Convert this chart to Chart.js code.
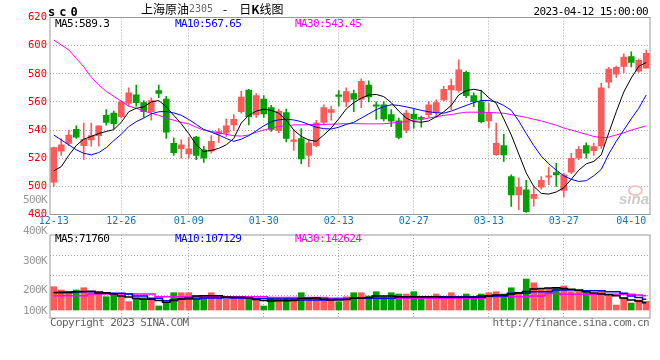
<!DOCTYPE html>
<html>
<head>
<meta charset="utf-8">
<script src="https://cdn.jsdelivr.net/npm/chart.js@4.4.0/dist/chart.umd.min.js"></script>
<style>
  body { margin: 0; background: #fff; }
  #wrap { position: relative; width: 660px; height: 360px; overflow: hidden; }
  canvas { position: absolute; left: 0; }
  .t { position: absolute; white-space: nowrap; font-family: 'DejaVu Sans Mono', monospace; font-size: 11px; line-height: 12px; letter-spacing: -0.6px; }
</style>
</head>
<body>
<div id="wrap">
  <canvas id="price" width="660" height="232" style="top:0"></canvas>
  <canvas id="volume" width="660" height="100" style="top:228px"></canvas>

  <div class="t" style="left:48px;top:5px;font-weight:bold;font-size:12px;line-height:14px;letter-spacing:4px;color:#000">sc0</div>
  <div class="t" style="left:141px;top:1px;font-family:'Noto Sans CJK SC';font-size:12px;line-height:16px;letter-spacing:0;color:#000">上海原油<span style="font:10px 'DejaVu Sans Mono';color:#666;vertical-align:2px">2305</span><span style="margin-left:10px">-</span><span style="margin-left:12px">日</span><b>K</b>线图</div>
  <div class="t" style="right:12px;top:6px;color:#000">2023-04-12 15:00:00</div>

  <div class="t" style="left:55px;top:18px;color:#000">MA5:589.3</div>
  <div class="t" style="left:175px;top:18px;color:#0000ff">MA10:567.65</div>
  <div class="t" style="left:295px;top:18px;color:#ff00ff">MA30:543.45</div>

  <div class="t" style="left:55px;top:233px;color:#000">MA5:71760</div>
  <div class="t" style="left:175px;top:233px;color:#0000ff">MA10:107129</div>
  <div class="t" style="left:295px;top:233px;color:#ff00ff">MA30:142624</div>

  <div class="t" style="right:613px;top:194px;color:#999">500K</div>
  <div class="t" style="right:613px;top:225px;color:#999">400K</div>
  <div class="t" style="right:613px;top:255px;color:#999">300K</div>
  <div class="t" style="right:613px;top:284px;color:#999">200K</div>
  <div class="t" style="right:613px;top:305px;color:#999">100K</div>

  <div class="t" style="left:50px;top:317px;color:#666">Copyright 2023 SINA.COM</div>
  <div class="t" style="right:11px;top:317px;color:#666">http://finance.sina.com.cn</div>

  <div style="position:absolute;left:628px;top:185px;width:11px;height:7px;border:2px solid #f2c6c6;border-radius:50%"></div>
  <div style="position:absolute;left:619px;top:190px;font:italic bold 15px 'Liberation Sans';color:#cccccc">sina</div>
</div>

<script>
// trading days shown
const dates = [
  '12-13','12-14','12-15','12-16','12-19','12-20','12-21','12-22','12-23','12-26',
  '12-27','12-28','12-29','12-30','01-03','01-04','01-05','01-06','01-09','01-10',
  '01-11','01-12','01-13','01-16','01-17','01-18','01-19','01-20','01-30','01-31',
  '02-01','02-02','02-03','02-06','02-07','02-08','02-09','02-10','02-13','02-14',
  '02-15','02-16','02-17','02-20','02-21','02-22','02-23','02-24','02-27','02-28',
  '03-01','03-02','03-03','03-06','03-07','03-08','03-09','03-10','03-13','03-14',
  '03-15','03-16','03-17','03-20','03-21','03-22','03-23','03-24','03-27','03-28',
  '03-29','03-30','03-31','04-03','04-04','04-06','04-07','04-10','04-11','04-12'
];
const shownDates = ['12-13','12-26','01-09','01-30','02-13','02-27','03-13','03-27','04-10'];
const gridDates = ['12-26','01-09','01-30','02-13','02-27','03-13','03-27'];

const opens = [
  503, 525, 530.5, 540.5, 529, 533, 536, 550.5, 552, 549.5,
  559, 565, 559.5, 553, 568, 562, 530.5, 526.7, 523, 535,
  526, 525, 537.3, 538, 543.7, 553, 568.5, 550.8, 562, 556,
  539.5, 552.5, 532, 534, 522, 529, 545.5, 552.5, 565, 560,
  566, 562, 572, 558, 558, 551, 546.5, 540, 551.3, 549,
  551, 552.3, 561.4, 568.6, 568.2, 581, 564.5, 560, 546.5, 522.5,
  529, 507, 494, 497.6, 491.5, 499.5, 506.6, 509.8, 497.1, 510,
  520, 529, 525.3, 528.8, 574, 579.8, 585.2, 592.3, 581.8, 584
];
const highs = [
  528, 534, 540, 543, 545, 545, 543, 554.5, 553.5, 561,
  570, 572, 561, 563, 572, 564, 534.5, 533, 535, 535.5,
  528.5, 536, 541, 548, 551, 567.5, 569, 566, 564.5, 557.5,
  555, 555, 540, 541, 533, 547, 558, 557, 568, 570,
  568.5, 576.5, 575, 560, 560, 554.5, 548.5, 554, 554.8, 550,
  560.2, 561.5, 571, 576.2, 590, 582, 566.5, 568.5, 559, 545,
  537, 508.2, 506, 504.3, 500, 507, 513.7, 516.4, 509.5, 523.5,
  528.3, 531, 530.5, 573.2, 584.5, 585.5, 594.2, 595.6, 590.5, 596.8
];
const lows = [
  500, 522, 529, 534, 519, 528.5, 528.5, 543.5, 541, 548.5,
  557, 557, 549, 547, 563, 534, 522, 520, 520, 519,
  517, 523.5, 531, 535.5, 539.5, 552, 543.7, 549, 549, 539,
  538, 531.5, 525.5, 516, 514, 528, 544, 547, 557, 556.7,
  553, 556, 560, 547.5, 546.5, 542.5, 533.8, 538, 541.3, 542,
  549, 549, 560.5, 554.5, 567, 563, 556.7, 545, 541.5, 522,
  517.7, 485.7, 483.5, 481.5, 486, 498, 501.2, 500, 492.5, 509,
  519, 520, 522, 527, 570, 577.5, 580.8, 584.8, 581, 584
];
const closes = [
  527.5, 529.5, 536.5, 535, 533.5, 536, 543, 545.5, 544.5, 560,
  566.5, 559.5, 553, 561, 566, 538.5, 524, 529.5, 526.7, 522,
  520, 532, 539, 543, 547.7, 563.5, 549.6, 564.5, 551.4, 540.5,
  553.5, 534, 533, 519.5, 531, 545, 556, 554.5, 564, 567.3,
  562, 574.6, 563.5, 557, 548, 546.3, 534.7, 552, 548, 548.3,
  558, 559.6, 569, 571.7, 582.8, 564.5, 560.2, 546, 552.5, 530.5,
  522.4, 494, 499.4, 482, 494.3, 504.2, 507.5, 508.2, 508.2, 520,
  526.4, 523.6, 528.3, 570, 583.4, 584.5, 591.8, 588, 589.5, 594.5
];

const ma5 = [
  511, 514, 522, 529, 533.5, 535.5, 537.5, 539, 540.3, 545.5,
  553, 555.5, 556.5, 560, 561, 556.5, 550.5, 544.5, 537.5, 529.5,
  524.8, 525.5, 527, 529.5, 534, 545, 550.5, 553.5, 554.8, 554,
  552, 547, 540, 535.5, 533, 532, 536.5, 541.5, 548, 555,
  559.5, 562.6, 565, 565.3, 563.8, 559.5, 553.5, 548.5, 546, 545.6,
  546.5, 549.5, 553, 557.5, 565, 568, 569, 568, 563, 559,
  548, 536.5, 523, 509.5, 500, 495, 494.5, 496, 499, 505,
  511.5, 516, 517.7, 522.4, 538, 553, 567, 577, 585.3, 588
];
const ma10 = [
  536.5, 533, 529.5, 526, 523.5, 522.4, 524, 527.5, 532.5, 537,
  542.5, 546, 548.5, 551.5, 553, 553.2, 552.2, 550.5, 547.5, 544,
  540.5, 538.5, 536.5, 534, 532, 533.5, 536, 539.5, 543, 546,
  547.3, 547.7, 547.2, 546, 544, 542, 541, 540.8, 542, 544,
  545.5, 548.5, 551.5, 554.5, 556.7, 558, 557.5, 556.5, 555.3, 554,
  553, 552.3, 552, 553.5, 555.5, 557.5, 559.5, 561, 561, 560,
  557.5, 554, 546.5, 537.5, 529, 521.5, 516, 511.5, 507.5, 505,
  503.5, 504, 507.5, 512, 523, 532, 540, 548, 555.5, 565
];
const ma30 = [
  604, 600.5, 597, 591, 585, 577.5, 572, 567.5, 564, 560.5,
  557, 555.5, 553.5, 552, 550.5, 548.5, 547, 545.5, 544.4, 542,
  540, 539, 538, 537, 536, 535.7, 536.5, 538.5, 540, 541.5,
  542.5, 543.2, 543.6, 543.7, 543.8, 544, 544, 544.2, 544.3, 544.5,
  544.6, 544.5, 544.4, 544.4, 544.5, 545, 545.5, 546, 547, 547.5,
  548.5, 549.5, 550.5, 551, 552, 552.7, 552.7, 552.7, 552.5, 552.3,
  552, 551, 550, 549, 547.7, 546.5, 545, 543.5, 541.5, 540,
  538.5, 537, 535.5, 534.5, 535, 536.5, 538, 540, 541.5, 543
];

const volumes = [
  233000, 200000, 183000, 200000, 223000, 173000, 173000, 133000, 150000, 133000,
  83000, 123000, 123000, 117000, 40000, 77000, 173000, 173000, 173000, 140000,
  140000, 173000, 140000, 110000, 133000, 133000, 127000, 110000, 40000, 127000,
  127000, 127000, 127000, 173000, 127000, 127000, 110000, 117000, 83000, 133000,
  173000, 173000, 140000, 183000, 133000, 173000, 160000, 160000, 183000, 133000,
  133000, 160000, 133000, 173000, 133000, 160000, 133000, 160000, 173000, 183000,
  160000, 222000, 167000, 310000, 272000, 217000, 217000, 220000, 240000, 183000,
  183000, 183000, 150000, 192000, 142000, 50000, 122000, 70000, 100000, 87000
];
const volMa5 = [
  175000, 178000, 180000, 183000, 185000, 187000, 180000, 172000, 160000, 140000,
  130000, 115000, 107000, 107000, 95000, 78000, 100000, 110000, 120000, 140000,
  143000, 143000, 143000, 130000, 127000, 127000, 120000, 105000, 95000, 90000,
  93000, 93000, 95000, 117000, 117000, 120000, 110000, 100000, 100000, 105000,
  117000, 117000, 125000, 140000, 140000, 140000, 133000, 133000, 133000, 133000,
  133000, 133000, 127000, 127000, 127000, 127000, 127000, 127000, 140000, 150000,
  150000, 160000, 173000, 185000, 210000, 215000, 220000, 223000, 215000, 207000,
  195000, 183000, 170000, 160000, 152000, 143000, 120000, 100000, 90000, 71760
];
const volMa10 = [
  173000, 173000, 173000, 183000, 183000, 183000, 167000, 167000, 167000, 167000,
  160000, 140000, 140000, 117000, 117000, 93000, 93000, 110000, 110000, 110000,
  120000, 120000, 120000, 123000, 120000, 120000, 120000, 115000, 115000, 110000,
  110000, 110000, 110000, 100000, 100000, 100000, 100000, 107000, 107000, 107000,
  117000, 117000, 117000, 117000, 117000, 117000, 133000, 133000, 133000, 133000,
  133000, 133000, 133000, 133000, 133000, 133000, 133000, 140000, 140000, 140000,
  140000, 167000, 167000, 167000, 183000, 183000, 183000, 200000, 200000, 200000,
  200000, 193000, 193000, 193000, 183000, 183000, 167000, 140000, 125000, 107129
];
const volMa30 = [
  143000, 143000, 143000, 143000, 143000, 160000, 160000, 160000, 160000, 160000,
  160000, 160000, 160000, 160000, 133000, 133000, 133000, 133000, 133000, 133000,
  133000, 133000, 133000, 133000, 133000, 133000, 133000, 133000, 133000, 125000,
  125000, 125000, 125000, 125000, 125000, 125000, 125000, 117000, 117000, 117000,
  117000, 117000, 117000, 117000, 117000, 117000, 117000, 117000, 117000, 117000,
  117000, 117000, 117000, 117000, 117000, 117000, 117000, 117000, 133000, 133000,
  133000, 133000, 133000, 133000, 140000, 140000, 165000, 165000, 157000, 157000,
  157000, 157000, 157000, 157000, 157000, 157000, 157000, 157000, 150000, 142624
];

const volGridValues = [150000, 350000, 550000];

const upColor = '#ff5a5a';
const downColor = '#00a000';
const candleColors = closes.map((c, i) => c >= opens[i] ? upColor : downColor);

Chart.defaults.font.family = "'DejaVu Sans Mono', monospace";

const frame = {
  id: 'frame',
  afterDraw(chart) {
    const a = chart.chartArea, c = chart.ctx;
    c.save();
    c.strokeStyle = '#999';
    c.lineWidth = 1;
    c.strokeRect(a.left, a.top, a.right - a.left, a.bottom - a.top);
    c.restore();
  }
};

const xGrid = {
  offset: false,
  drawTicks: false,
  color: ctx => (ctx.tick && gridDates.includes(dates[ctx.index])) ? '#aaa' : 'rgba(0,0,0,0)'
};

function maLine(data, color, width, stepped) {
  return {
    type: 'line', data: data, borderColor: color, borderWidth: width,
    pointRadius: 0, tension: 0, stepped: stepped || false, order: 0
  };
}

new Chart(document.getElementById('price'), {
  type: 'bar',
  data: {
    labels: dates,
    datasets: [
      maLine(ma5, '#000000', 1),
      maLine(ma10, '#0000ff', 1),
      maLine(ma30, '#ff00ff', 1),
      {
        data: opens.map((o, i) => [o, closes[i]]),
        backgroundColor: candleColors,
        barThickness: 6, grouped: false, minBarLength: 1, order: 1
      },
      {
        data: lows.map((l, i) => [l, highs[i]]),
        backgroundColor: candleColors,
        barThickness: 1, grouped: false, order: 2
      }
    ]
  },
  options: {
    responsive: false,
    animation: false,
    events: [],
    layout: { padding: { top: 17.5, right: 10, left: 0, bottom: 0 } },
    plugins: { legend: { display: false }, tooltip: { enabled: false } },
    scales: {
      x: {
        offset: true,
        grid: xGrid,
        border: { display: false, dash: [1, 2] },
        ticks: {
          autoSkip: false, maxRotation: 0, padding: 1, color: '#0a78c8',
          font: { size: 10 },
          callback: (v, i) => shownDates.includes(dates[i]) ? dates[i] : ''
        },
        afterFit: s => { s.height = 17.5; }
      },
      y: {
        min: 480, max: 620,
        ticks: { stepSize: 20, color: '#ee0000', padding: 3, font: { size: 10.5 } },
        grid: { drawTicks: false, color: '#aaa' },
        border: { display: false, dash: [1, 2] },
        afterFit: s => { s.width = 50; }
      }
    }
  },
  plugins: [frame]
});

new Chart(document.getElementById('volume'), {
  type: 'bar',
  data: {
    labels: dates,
    datasets: [
      maLine(volMa5, '#000000', 1.5, 'middle'),
      maLine(volMa10, '#0000ff', 1.5, 'middle'),
      maLine(volMa30, '#ff00ff', 1.5, 'middle'),
      {
        data: volumes,
        backgroundColor: candleColors,
        barThickness: 6, order: 1
      }
    ]
  },
  options: {
    responsive: false,
    animation: false,
    events: [],
    layout: { padding: { top: 7, right: 10, left: 0, bottom: 10 } },
    plugins: { legend: { display: false }, tooltip: { enabled: false } },
    scales: {
      x: {
        offset: true,
        grid: xGrid,
        border: { display: false, dash: [1, 2] },
        ticks: { display: false },
        afterFit: s => { s.height = 0; }
      },
      y: {
        min: -80000, max: 750000,
        ticks: { display: false },
        grid: { drawTicks: false, color: '#aaa' },
        border: { display: false, dash: [1, 2] },
        afterBuildTicks: s => { s.ticks = volGridValues.map(v => ({ value: v })); },
        afterFit: s => { s.width = 50; }
      }
    }
  },
  plugins: [frame]
});
</script>
</body>
</html>
